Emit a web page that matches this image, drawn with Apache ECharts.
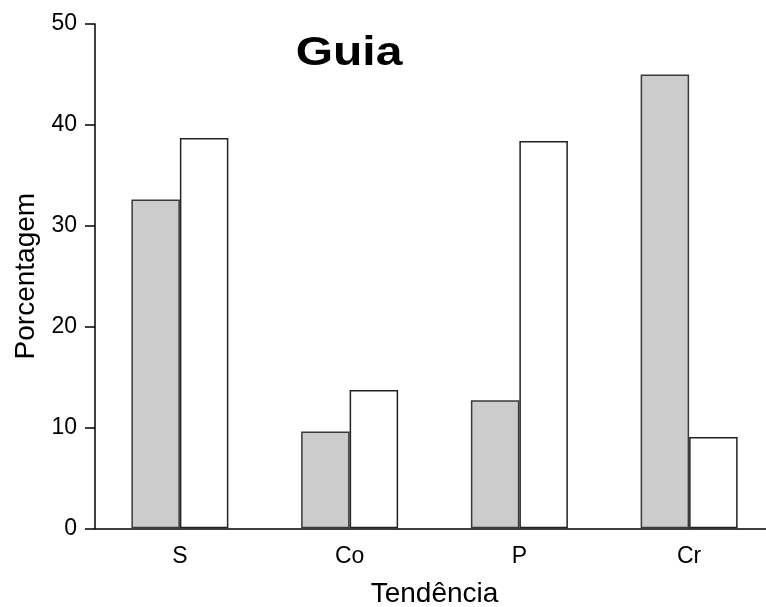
<!DOCTYPE html>
<html>
<head>
<meta charset="utf-8">
<script src="https://cdn.jsdelivr.net/npm/echarts@6/dist/echarts.min.js"></script>
<style>html,body{margin:0;padding:0;background:#fff;overflow:hidden;}#c{width:766px;height:607px;}</style>
</head>
<body>
<div id="c"></div>
<script>
const categories = ['S', 'Co', 'P', 'Cr'];
const graySeries = [32.6, 9.6, 12.7, 45.0];
const whiteSeries = [38.7, 13.7, 38.4, 9.05];
const yTicks = { min: 0, max: 50, interval: 10 };
const titleText = 'Guia';

const chart = echarts.init(document.getElementById('c'), null, { renderer: 'canvas' });
const font = 'Liberation Sans, Arial, Helvetica, sans-serif';
chart.setOption({
  animation: false,
  backgroundColor: '#ffffff',
  graphic: [{
    type: 'text',
    x: 349, y: 54,
    scaleX: 1.2,
    z: 10,
    style: {
      text: titleText, x: 0, y: 0,
      textAlign: 'center', textVerticalAlign: 'middle',
      font: 'bold 40px Liberation Sans, Arial, sans-serif',
      fill: '#000'
    }
  }],
  grid: { left: 95, top: 24, width: 679, bottom: 78.7, containLabel: false, outerBoundsMode: 'none' },
  xAxis: {
    type: 'category',
    data: categories,
    name: 'Tendência',
    nameLocation: 'middle',
    nameGap: 52,
    nameTextStyle: { fontFamily: font, fontSize: 28, color: '#000' },
    axisLine: { lineStyle: { color: '#000', width: 1.5 } },
    axisTick: { alignWithLabel: true, length: 10, lineStyle: { color: '#000', width: 1.5 } },
    axisLabel: { margin: 17, fontFamily: font, fontSize: 23, color: '#000' }
  },
  yAxis: {
    type: 'value',
    min: yTicks.min, max: yTicks.max, interval: yTicks.interval,
    name: 'Porcentagem',
    nameLocation: 'middle',
    nameGap: 55,
    nameTextStyle: { fontFamily: font, fontSize: 28, color: '#000' },
    splitLine: { show: false },
    axisLine: { show: true, lineStyle: { color: '#000', width: 1.5 } },
    axisTick: { show: true, length: 10, lineStyle: { color: '#000', width: 1.5 } },
    axisLabel: { margin: 18, fontFamily: font, fontSize: 23, color: '#000' }
  },
  series: [
    {
      type: 'bar', data: graySeries, barWidth: 48.5, barGap: '0%',
      itemStyle: { color: '#cccccc', borderColor: '#3a3a3a', borderWidth: 1.5 }
    },
    {
      type: 'bar', data: whiteSeries, barWidth: 48.5, barGap: '0%',
      itemStyle: { color: '#ffffff', borderColor: '#222222', borderWidth: 1.5 }
    }
  ]
});
</script>
</body>
</html>
